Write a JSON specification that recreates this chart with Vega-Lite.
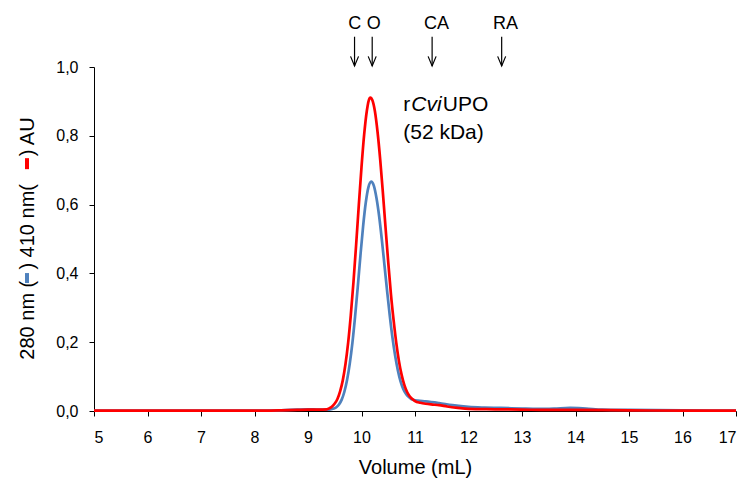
{
  "$schema": "https://vega.github.io/schema/vega-lite/v6.json",
  "width": 642,
  "height": 344,
  "autosize": {"type": "none"},
  "padding": {"left": 94, "top": 67, "right": 13, "bottom": 71},
  "background": "white",
  "config": {
    "view": {"stroke": null},
    "font": "Liberation Sans",
    "axis": {
      "grid": false,
      "domainColor": "black",
      "tickColor": "black",
      "labelColor": "black",
      "titleColor": "black",
      "labelFont": "Liberation Sans",
      "titleFont": "Liberation Sans",
      "labelFontSize": 16,
      "titleFontSize": 20,
      "titleFontWeight": "normal",
      "tickSize": 5,
      "domainWidth": 1,
      "tickWidth": 1
    }
  },
  "datasets": {
    "curves": [
      {"v": 5.0, "a": 0.001, "s": "280 nm"},
      {"v": 6.0, "a": 0.001, "s": "280 nm"},
      {"v": 7.0, "a": 0.001, "s": "280 nm"},
      {"v": 8.0, "a": 0.001, "s": "280 nm"},
      {"v": 8.5, "a": 0.002, "s": "280 nm"},
      {"v": 8.8, "a": 0.004, "s": "280 nm"},
      {"v": 9.0, "a": 0.005, "s": "280 nm"},
      {"v": 9.2, "a": 0.004, "s": "280 nm"},
      {"v": 9.4, "a": 0.004, "s": "280 nm"},
      {"v": 9.48, "a": 0.007, "s": "280 nm"},
      {"v": 9.53, "a": 0.011, "s": "280 nm"},
      {"v": 9.58, "a": 0.019, "s": "280 nm"},
      {"v": 9.63, "a": 0.033, "s": "280 nm"},
      {"v": 9.68, "a": 0.056, "s": "280 nm"},
      {"v": 9.73, "a": 0.090, "s": "280 nm"},
      {"v": 9.78, "a": 0.137, "s": "280 nm"},
      {"v": 9.83, "a": 0.198, "s": "280 nm"},
      {"v": 9.88, "a": 0.274, "s": "280 nm"},
      {"v": 9.93, "a": 0.360, "s": "280 nm"},
      {"v": 9.98, "a": 0.452, "s": "280 nm"},
      {"v": 10.03, "a": 0.537, "s": "280 nm"},
      {"v": 10.08, "a": 0.606, "s": "280 nm"},
      {"v": 10.13, "a": 0.651, "s": "280 nm"},
      {"v": 10.18, "a": 0.667, "s": "280 nm"},
      {"v": 10.23, "a": 0.655, "s": "280 nm"},
      {"v": 10.28, "a": 0.619, "s": "280 nm"},
      {"v": 10.33, "a": 0.566, "s": "280 nm"},
      {"v": 10.38, "a": 0.498, "s": "280 nm"},
      {"v": 10.43, "a": 0.423, "s": "280 nm"},
      {"v": 10.48, "a": 0.347, "s": "280 nm"},
      {"v": 10.53, "a": 0.275, "s": "280 nm"},
      {"v": 10.58, "a": 0.212, "s": "280 nm"},
      {"v": 10.63, "a": 0.160, "s": "280 nm"},
      {"v": 10.68, "a": 0.118, "s": "280 nm"},
      {"v": 10.73, "a": 0.086, "s": "280 nm"},
      {"v": 10.78, "a": 0.064, "s": "280 nm"},
      {"v": 10.83, "a": 0.050, "s": "280 nm"},
      {"v": 10.88, "a": 0.041, "s": "280 nm"},
      {"v": 10.93, "a": 0.035, "s": "280 nm"},
      {"v": 10.98, "a": 0.032, "s": "280 nm"},
      {"v": 11.05, "a": 0.030, "s": "280 nm"},
      {"v": 11.2, "a": 0.028, "s": "280 nm"},
      {"v": 11.45, "a": 0.023, "s": "280 nm"},
      {"v": 11.7, "a": 0.017, "s": "280 nm"},
      {"v": 12.0, "a": 0.012, "s": "280 nm"},
      {"v": 12.3, "a": 0.010, "s": "280 nm"},
      {"v": 12.6, "a": 0.009, "s": "280 nm"},
      {"v": 13.0, "a": 0.007, "s": "280 nm"},
      {"v": 13.3, "a": 0.006, "s": "280 nm"},
      {"v": 13.6, "a": 0.007, "s": "280 nm"},
      {"v": 13.9, "a": 0.009, "s": "280 nm"},
      {"v": 14.2, "a": 0.007, "s": "280 nm"},
      {"v": 14.5, "a": 0.004, "s": "280 nm"},
      {"v": 15.0, "a": 0.003, "s": "280 nm"},
      {"v": 16.0, "a": 0.002, "s": "280 nm"},
      {"v": 17.0, "a": 0.001, "s": "280 nm"},
      {"v": 5.0, "a": 0.001, "s": "410 nm"},
      {"v": 6.0, "a": 0.001, "s": "410 nm"},
      {"v": 7.0, "a": 0.001, "s": "410 nm"},
      {"v": 8.0, "a": 0.001, "s": "410 nm"},
      {"v": 8.5, "a": 0.002, "s": "410 nm"},
      {"v": 8.8, "a": 0.003, "s": "410 nm"},
      {"v": 9.0, "a": 0.004, "s": "410 nm"},
      {"v": 9.2, "a": 0.004, "s": "410 nm"},
      {"v": 9.35, "a": 0.005, "s": "410 nm"},
      {"v": 9.4, "a": 0.008, "s": "410 nm"},
      {"v": 9.45, "a": 0.013, "s": "410 nm"},
      {"v": 9.5, "a": 0.022, "s": "410 nm"},
      {"v": 9.55, "a": 0.035, "s": "410 nm"},
      {"v": 9.6, "a": 0.057, "s": "410 nm"},
      {"v": 9.65, "a": 0.089, "s": "410 nm"},
      {"v": 9.7, "a": 0.136, "s": "410 nm"},
      {"v": 9.75, "a": 0.198, "s": "410 nm"},
      {"v": 9.8, "a": 0.279, "s": "410 nm"},
      {"v": 9.85, "a": 0.375, "s": "410 nm"},
      {"v": 9.9, "a": 0.484, "s": "410 nm"},
      {"v": 9.95, "a": 0.599, "s": "410 nm"},
      {"v": 10.0, "a": 0.709, "s": "410 nm"},
      {"v": 10.05, "a": 0.804, "s": "410 nm"},
      {"v": 10.1, "a": 0.873, "s": "410 nm"},
      {"v": 10.15, "a": 0.909, "s": "410 nm"},
      {"v": 10.17, "a": 0.911, "s": "410 nm"},
      {"v": 10.2, "a": 0.905, "s": "410 nm"},
      {"v": 10.25, "a": 0.872, "s": "410 nm"},
      {"v": 10.3, "a": 0.811, "s": "410 nm"},
      {"v": 10.35, "a": 0.730, "s": "410 nm"},
      {"v": 10.4, "a": 0.634, "s": "410 nm"},
      {"v": 10.45, "a": 0.532, "s": "410 nm"},
      {"v": 10.5, "a": 0.432, "s": "410 nm"},
      {"v": 10.55, "a": 0.340, "s": "410 nm"},
      {"v": 10.6, "a": 0.264, "s": "410 nm"},
      {"v": 10.65, "a": 0.198, "s": "410 nm"},
      {"v": 10.7, "a": 0.145, "s": "410 nm"},
      {"v": 10.75, "a": 0.105, "s": "410 nm"},
      {"v": 10.8, "a": 0.076, "s": "410 nm"},
      {"v": 10.85, "a": 0.056, "s": "410 nm"},
      {"v": 10.9, "a": 0.043, "s": "410 nm"},
      {"v": 10.95, "a": 0.035, "s": "410 nm"},
      {"v": 11.0, "a": 0.029, "s": "410 nm"},
      {"v": 11.1, "a": 0.024, "s": "410 nm"},
      {"v": 11.2, "a": 0.021, "s": "410 nm"},
      {"v": 11.3, "a": 0.019, "s": "410 nm"},
      {"v": 11.45, "a": 0.017, "s": "410 nm"},
      {"v": 11.6, "a": 0.013, "s": "410 nm"},
      {"v": 11.8, "a": 0.009, "s": "410 nm"},
      {"v": 12.0, "a": 0.006, "s": "410 nm"},
      {"v": 12.5, "a": 0.005, "s": "410 nm"},
      {"v": 13.0, "a": 0.004, "s": "410 nm"},
      {"v": 13.5, "a": 0.003, "s": "410 nm"},
      {"v": 14.0, "a": 0.003, "s": "410 nm"},
      {"v": 15.0, "a": 0.002, "s": "410 nm"},
      {"v": 16.0, "a": 0.001, "s": "410 nm"},
      {"v": 17.0, "a": 0.001, "s": "410 nm"}
    ],
    "markers": [
      {"lab": "C", "lx": 9.75, "ax": 9.87},
      {"lab": "O", "lx": 10.1, "ax": 10.2},
      {"lab": "CA", "lx": 11.17, "ax": 11.32},
      {"lab": "RA", "lx": 12.46, "ax": 12.62}
    ],
    "note": [
      {"t": "r", "x": 10.78, "y": 0.872},
      {"t": "UPO", "x": 11.52, "y": 0.872},
      {"t": "(52 kDa)", "x": 10.78, "y": 0.791}
    ],
    "noteItalic": [
      {"t": "Cvi", "x": 10.93, "y": 0.872}
    ],
    "dashes": [
      {"s": "280 nm", "y1": 0.372, "y2": 0.401},
      {"s": "410 nm", "y1": 0.703, "y2": 0.735}
    ]
  },
  "layer": [
    {
      "data": {"name": "curves"},
      "mark": {"type": "line", "interpolate": "monotone", "strokeWidth": 2.7},
      "encoding": {
        "x": {
          "field": "v",
          "type": "quantitative",
          "scale": {"domain": [5, 17], "nice": false},
          "axis": {
            "values": [5, 6, 7, 8, 9, 10, 11, 12, 13, 14, 15, 16, 17],
            "format": "d",
            "title": "Volume (mL)",
            "labelBaseline": "alphabetic",
            "labelPadding": 26,
            "titleBaseline": "alphabetic",
            "titleY": 62
          }
        },
        "y": {
          "field": "a",
          "type": "quantitative",
          "scale": {"domain": [0, 1], "nice": false},
          "axis": {
            "values": [0, 0.2, 0.4, 0.6, 0.8, 1.0],
            "labelExpr": "replace(format(datum.value, '.1f'), '.', ',')",
            "labelPadding": 11,
            "title": "280 nm (\u00a0\u00a0) 410 nm(\u00a0\u00a0\u00a0\u00a0\u00a0) AU",
            "titleAngle": 270,
            "titleX": -61,
            "titleY": 171,
            "titleAlign": "center",
            "titleBaseline": "alphabetic"
          }
        },
        "color": {
          "field": "s",
          "type": "nominal",
          "scale": {"domain": ["280 nm", "410 nm"], "range": ["#4F81BD", "#FF0000"]},
          "legend": null
        }
      }
    },
    {
      "data": {"name": "dashes"},
      "mark": {"type": "rule", "strokeWidth": 4, "xOffset": -67},
      "encoding": {
        "x": {"datum": 5},
        "y": {"field": "y1", "type": "quantitative"},
        "y2": {"field": "y2"},
        "color": {"field": "s", "type": "nominal"}
      }
    },
    {
      "data": {"name": "markers"},
      "mark": {"type": "text", "align": "left", "baseline": "alphabetic", "fontSize": 18, "font": "Liberation Sans", "color": "black"},
      "encoding": {
        "x": {"field": "lx", "type": "quantitative"},
        "y": {"datum": 1.11},
        "text": {"field": "lab"}
      }
    },
    {
      "data": {"name": "markers"},
      "mark": {"type": "rule", "color": "black", "strokeWidth": 1.2},
      "encoding": {
        "x": {"field": "ax", "type": "quantitative"},
        "y": {"datum": 1.088},
        "y2": {"datum": 1.003}
      }
    },
    {
      "data": {"name": "markers"},
      "mark": {"type": "point", "shape": "M-1,-2.4L0,0L1,-2.4", "size": 64, "filled": false, "stroke": "black", "strokeWidth": 1.2, "opacity": 1},
      "encoding": {
        "x": {"field": "ax", "type": "quantitative"},
        "y": {"datum": 1.003}
      }
    },
    {
      "data": {"name": "note"},
      "mark": {"type": "text", "align": "left", "baseline": "alphabetic", "fontSize": 21, "font": "Liberation Sans", "color": "black"},
      "encoding": {
        "x": {"field": "x", "type": "quantitative"},
        "y": {"field": "y", "type": "quantitative"},
        "text": {"field": "t"}
      }
    },
    {
      "data": {"name": "noteItalic"},
      "mark": {"type": "text", "align": "left", "baseline": "alphabetic", "fontSize": 21, "font": "Liberation Sans", "fontStyle": "italic", "color": "black"},
      "encoding": {
        "x": {"field": "x", "type": "quantitative"},
        "y": {"field": "y", "type": "quantitative"},
        "text": {"field": "t"}
      }
    }
  ]
}
